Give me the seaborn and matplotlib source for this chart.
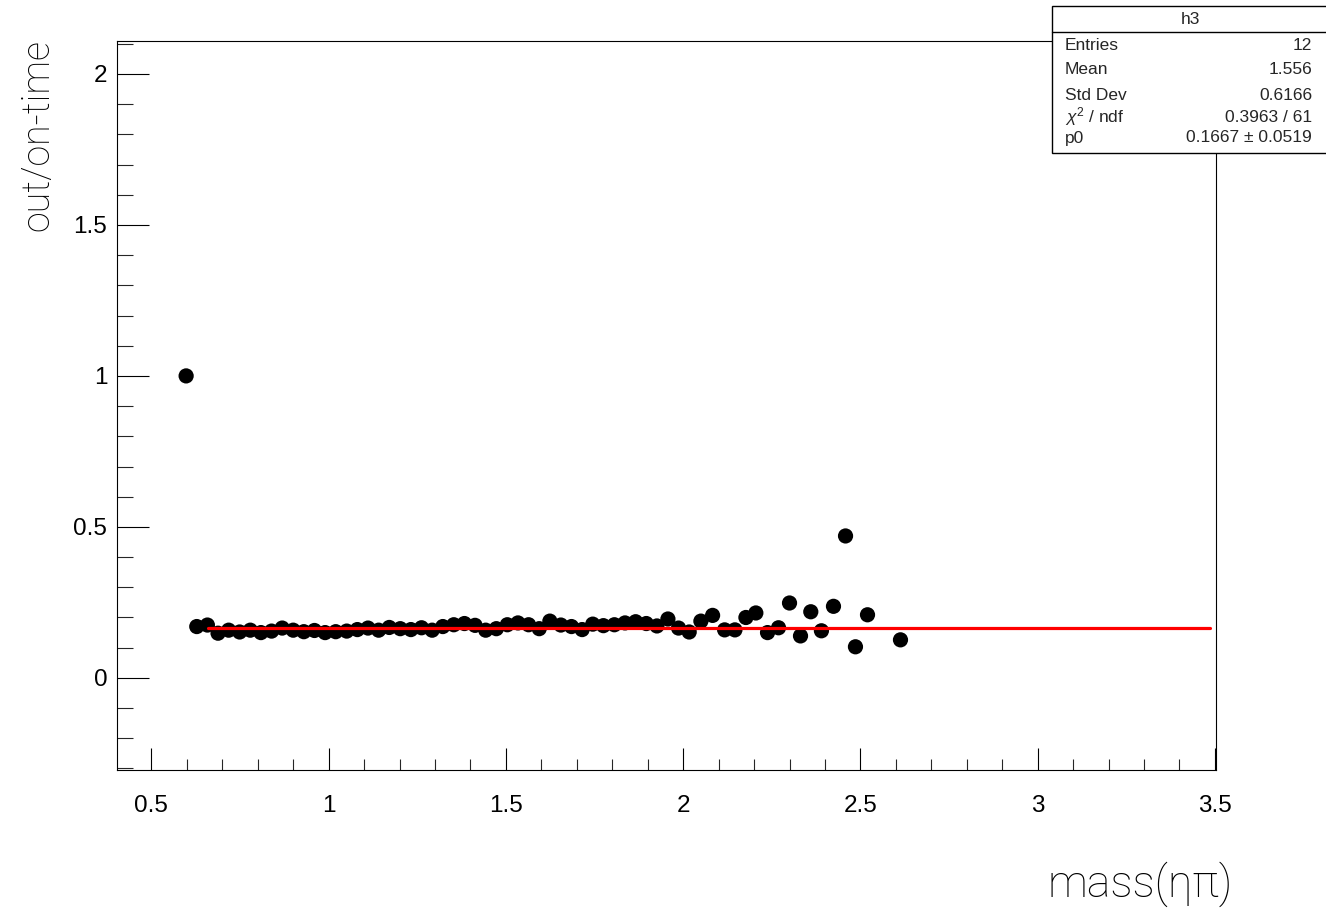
import matplotlib
matplotlib.use("Agg")
import matplotlib.pyplot as plt
import seaborn as sns
import pandas as pd
from matplotlib.ticker import MultipleLocator, FixedLocator
from matplotlib.patches import Rectangle
from matplotlib.lines import Line2D

# ---- data ----
mass = [0.598, 0.628, 0.658, 0.688, 0.718, 0.749, 0.779, 0.809, 0.839, 0.869,
        0.900, 0.930, 0.960, 0.990, 1.020, 1.051, 1.081, 1.111, 1.141, 1.171,
        1.202, 1.232, 1.262, 1.292, 1.322, 1.353, 1.383, 1.413, 1.443, 1.473,
        1.504, 1.534, 1.564, 1.594, 1.624, 1.655, 1.685, 1.715, 1.745, 1.775,
        1.806, 1.836, 1.866, 1.896, 1.926, 1.957, 1.987, 2.017,
        2.050, 2.083, 2.117, 2.146, 2.177, 2.205, 2.238, 2.269, 2.300, 2.331,
        2.360, 2.390, 2.424, 2.458, 2.486, 2.520, 2.613]
ratio = [1.000, 0.170, 0.175, 0.148, 0.158, 0.152, 0.158, 0.150, 0.155, 0.165,
         0.158, 0.153, 0.157, 0.150, 0.153, 0.155, 0.160, 0.165, 0.158, 0.167,
         0.163, 0.160, 0.166, 0.158, 0.170, 0.176, 0.180, 0.174, 0.158, 0.163,
         0.176, 0.182, 0.176, 0.163, 0.188, 0.175, 0.170, 0.160, 0.178, 0.173,
         0.176, 0.182, 0.186, 0.180, 0.172, 0.195, 0.165, 0.152,
         0.188, 0.207, 0.159, 0.159, 0.200, 0.215, 0.150, 0.166, 0.248, 0.139,
         0.219, 0.156, 0.237, 0.470, 0.103, 0.209, 0.126]
fit_range = [0.66, 3.485]
fit_p0 = 0.1667

x_major_ticks = [0.5, 1, 1.5, 2, 2.5, 3, 3.5]
x_tick_labels = ["0.5", "1", "1.5", "2", "2.5", "3", "3.5"]
y_major_ticks = [0, 0.5, 1, 1.5, 2]
y_tick_labels = ["0", "0.5", "1", "1.5", "2"]

stats_title = "h3"
stats_names = ["Entries", "Mean", "Std Dev", "$\\chi^{2}$ / ndf", "p0"]
stats_values = ["12", "1.556", "0.6166", "0.3963 / 61", "0.1667 \u00b1 0.0519"]

x_title = "mass(\u03b7\u03c0)"
y_title = "out/on-time"

# ---- style ----
sns.set_theme(style="ticks")
plt.rcParams["font.family"] = ["Liberation Sans", "DejaVu Sans"]
plt.rcParams["mathtext.fontset"] = "custom"
plt.rcParams["mathtext.rm"] = "Liberation Sans"
plt.rcParams["mathtext.it"] = "Liberation Sans:italic"
plt.rcParams["axes.linewidth"] = 0.8

W, H = 1326, 909
fig = plt.figure(figsize=(W / 100, H / 100), dpi=100)
fig.patch.set_facecolor("white")
ax = fig.add_axes([117 / W, (H - 770) / H, (1216 - 117) / W, (770 - 41) / H])
ax.set_facecolor("white")

df = pd.DataFrame({"mass": mass, "ratio": ratio})
sns.scatterplot(data=df, x="mass", y="ratio", ax=ax, color="black",
                s=120, edgecolor="none", linewidth=0, zorder=3, legend=False)
fit_df = pd.DataFrame({"x": fit_range, "y": [fit_p0] * len(fit_range)})
sns.lineplot(data=fit_df, x="x", y="y", ax=ax, color="#ff0000", lw=2.3,
             zorder=4, legend=False)

ax.set_xlim(0.403, 3.503)
ax.set_ylim(-0.305, 2.109)
ax.set_xlabel("")
ax.set_ylabel("")

ax.xaxis.set_major_locator(FixedLocator(x_major_ticks))
ax.set_xticklabels(x_tick_labels)
ax.xaxis.set_minor_locator(MultipleLocator(0.1))
ax.yaxis.set_major_locator(FixedLocator(y_major_ticks))
ax.set_yticklabels(y_tick_labels)
ax.yaxis.set_minor_locator(MultipleLocator(0.1))

ax.tick_params(axis="x", which="major", direction="in", length=16, width=0.8,
               labelsize=17.5, pad=18, colors="black")
ax.tick_params(axis="x", which="minor", direction="in", length=8, width=0.8)
ax.tick_params(axis="y", which="major", direction="in", length=23, width=0.8,
               labelsize=17.5, pad=7, colors="black")
ax.tick_params(axis="y", which="minor", direction="in", length=11.5, width=0.8)
for s in ax.spines.values():
    s.set_visible(True)
    s.set_color("black")
    s.set_linewidth(0.8)

# axis titles (ROOT style: at the ends of the axes)
title_font = ["Roboto", "DejaVu Sans"]
fig.text(38 / W, 1 - 39 / H, y_title, rotation=90, ha="center", va="top",
         fontsize=27, fontweight="light", family=title_font, color="black")
fig.text(1233 / W, 1 - 884 / H, x_title, ha="right", va="center",
         fontsize=32, fontweight="light", family=title_font, color="black")

# stats box
bx0, by_top, by_bot, by_sep = 1052, 6, 153, 32
fig.add_artist(Rectangle((bx0 / W, 1 - by_bot / H), (W - bx0 + 5) / W,
                         (by_bot - by_top) / H, transform=fig.transFigure,
                         facecolor="white", edgecolor="black", lw=1.0,
                         zorder=10, clip_on=False))
fig.add_artist(Line2D([bx0 / W, 1.0], [1 - by_sep / H, 1 - by_sep / H],
                      transform=fig.transFigure, color="black", lw=1.0,
                      zorder=11))
fig.text(1190 / W, 1 - 20 / H, stats_title, ha="center", va="center",
         fontsize=12.5, zorder=12)
row_y = [45, 70, 96, 117, 138]
for yy, name, val in zip(row_y, stats_names, stats_values):
    fig.text(1065 / W, 1 - yy / H, name, ha="left", va="center",
             fontsize=12.5, zorder=12)
    fig.text(1312 / W, 1 - yy / H, val, ha="right", va="center",
             fontsize=12.5, zorder=12)

fig.savefig("out.png", dpi=100, facecolor="white")
